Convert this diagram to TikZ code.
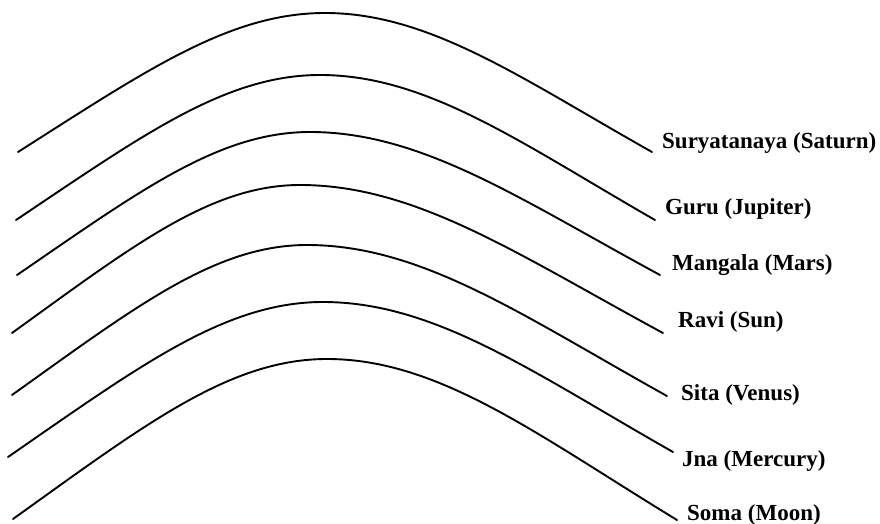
\documentclass[tikz,border=0pt]{standalone}
\usepackage{fontspec}
\setmainfont{Liberation Serif}
\begin{document}
\begin{tikzpicture}[x=1pt,y=-1pt,
  arcline/.style={line width=1.9pt, line cap=round},
  planetlabel/.style={anchor=west, inner sep=0pt, font=\fontsize{23}{26}\selectfont\bfseries}]
\useasboundingbox (0,0) rectangle (880,524);
\foreach \xl/\yl/\xp/\yp/\xr/\yr/\lx/\ly/\nm/\txt in {
  18/152/325/13/652/152/662/143/saturn/{Suryatanaya (Saturn)},
  16/220/320/75/655/220/665/209/jupiter/{Guru (Jupiter)},
  17/275/310/132/660/275/672/265/mars/{Mangala (Mars)},
  12/333/300/185/663/333/678/322/sun/{Ravi (Sun)},
  12/395/307/245/667/396/681/395/venus/{Sita (Venus)},
  8/457/323/302/673/452/682/461/mercury/{Jna (Mercury)},
  13/519/327/359/677/520/687/515/moon/{Soma (Moon)}}{
  \pgfmathsetmacro{\ax}{\xl+0.42*(\xp-\xl)}
  \pgfmathsetmacro{\ay}{\yl-0.59*(\yl-\yp)}
  \pgfmathsetmacro{\bx}{\xp-0.31*(\xp-\xl)}
  \pgfmathsetmacro{\cx}{\xp+0.32*(\xr-\xp)}
  \pgfmathsetmacro{\dx}{\xr-0.40*(\xr-\xp)}
  \pgfmathsetmacro{\dy}{\yr-0.53*(\yr-\yp)}
  \draw[arcline] (\xl,\yl) .. controls (\ax,\ay) and (\bx,\yp) .. (\xp,\yp)
     .. controls (\cx,\yp) and (\dx,\dy) .. (\xr,\yr);
  \node[planetlabel] (\nm) at (\lx,\ly) {\txt};
}
\end{tikzpicture}
\end{document}
